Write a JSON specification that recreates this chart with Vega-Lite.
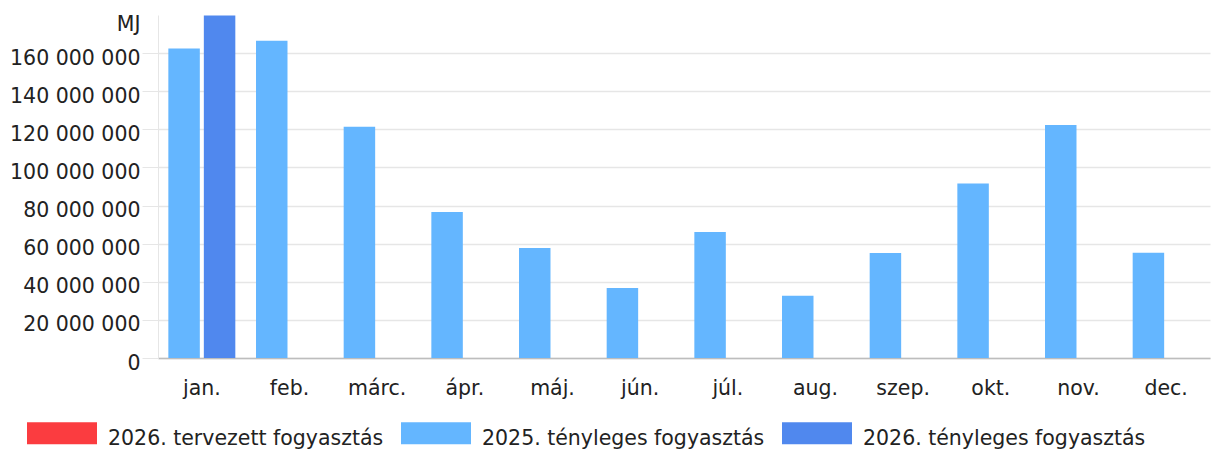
{
  "$schema": "https://vega.github.io/schema/vega-lite/v6.json",
  "autosize": {"type": "none"},
  "width": 1052,
  "height": 343,
  "padding": {"left": 158, "top": 15, "right": 2, "bottom": 94},
  "config": {
    "font": "DejaVu Sans",
    "view": {"stroke": null},
    "locale": {"number": {"decimal": ",", "thousands": " ", "grouping": [3], "currency": ["", ""]}}
  },
  "data": {
    "values": [
      {"honap": "jan.", "sorozat": "2025. tényleges fogyasztás", "ertek": 162400000},
      {"honap": "jan.", "sorozat": "2026. tényleges fogyasztás", "ertek": 179800000},
      {"honap": "feb.", "sorozat": "2025. tényleges fogyasztás", "ertek": 166500000},
      {"honap": "márc.", "sorozat": "2025. tényleges fogyasztás", "ertek": 121400000},
      {"honap": "ápr.", "sorozat": "2025. tényleges fogyasztás", "ertek": 76600000},
      {"honap": "máj.", "sorozat": "2025. tényleges fogyasztás", "ertek": 57700000},
      {"honap": "jún.", "sorozat": "2025. tényleges fogyasztás", "ertek": 36700000},
      {"honap": "júl.", "sorozat": "2025. tényleges fogyasztás", "ertek": 66100000},
      {"honap": "aug.", "sorozat": "2025. tényleges fogyasztás", "ertek": 32700000},
      {"honap": "szep.", "sorozat": "2025. tényleges fogyasztás", "ertek": 55100000},
      {"honap": "okt.", "sorozat": "2025. tényleges fogyasztás", "ertek": 91600000},
      {"honap": "nov.", "sorozat": "2025. tényleges fogyasztás", "ertek": 122300000},
      {"honap": "dec.", "sorozat": "2025. tényleges fogyasztás", "ertek": 55200000}
    ]
  },
  "mark": {"type": "bar"},
  "encoding": {
    "x": {
      "field": "honap",
      "type": "nominal",
      "sort": ["jan.", "feb.", "márc.", "ápr.", "máj.", "jún.", "júl.", "aug.", "szep.", "okt.", "nov.", "dec."],
      "scale": {"domain": ["jan.", "feb.", "márc.", "ápr.", "máj.", "jún.", "júl.", "aug.", "szep.", "okt.", "nov.", "dec."], "paddingInner": 0.236, "paddingOuter": 0.118},
      "axis": {
        "title": null,
        "labelAngle": 0,
        "labelFontSize": 20.5,
        "labelColor": "#222222",
        "ticks": false,
        "labelPadding": 20,
        "domainColor": "#bdbdbd",
        "domainWidth": 1.5,
        "grid": false
      }
    },
    "xOffset": {
      "field": "sorozat",
      "type": "nominal",
      "scale": {"domain": ["2025. tényleges fogyasztás", "2026. tényleges fogyasztás"], "paddingInner": 0.113, "paddingOuter": 0}
    },
    "y": {
      "field": "ertek",
      "type": "quantitative",
      "scale": {"domain": [0, 180000000], "nice": false},
      "axis": {
        "values": [0, 20000000, 40000000, 60000000, 80000000, 100000000, 120000000, 140000000, 160000000],
        "format": ",d",
        "title": "MJ",
        "titleAngle": 0,
        "titleAlign": "right",
        "titleBaseline": "alphabetic",
        "titleX": -18,
        "titleY": 15,
        "titleFontSize": 20.5,
        "titleFontWeight": "normal",
        "titleColor": "#222222",
        "labelFontSize": 20.5,
        "labelColor": "#222222",
        "labelPadding": 2,
        "labelOffset": 5,
        "tickSize": 16,
        "tickColor": "#e6e6e6",
        "gridColor": "#e6e6e6",
        "gridWidth": 1.5,
        "domainColor": "#e6e6e6"
      }
    },
    "color": {
      "field": "sorozat",
      "type": "nominal",
      "scale": {
        "domain": ["2026. tervezett fogyasztás", "2025. tényleges fogyasztás", "2026. tényleges fogyasztás"],
        "range": ["#fb3c40", "#64b6ff", "#5088ee"]
      },
      "legend": {
        "orient": "none",
        "legendX": -131,
        "legendY": 389,
        "direction": "horizontal",
        "title": null,
        "symbolType": "M-1,-0.486H1V0.143H-1Z",
        "symbolSize": 4900,
        "symbolStrokeWidth": 0,
        "symbolOpacity": 1,
        "labelFontSize": 20.5,
        "labelColor": "#222222",
        "labelOffset": 11,
        "columnPadding": 17,
        "labelLimit": 400
      }
    }
  }
}
